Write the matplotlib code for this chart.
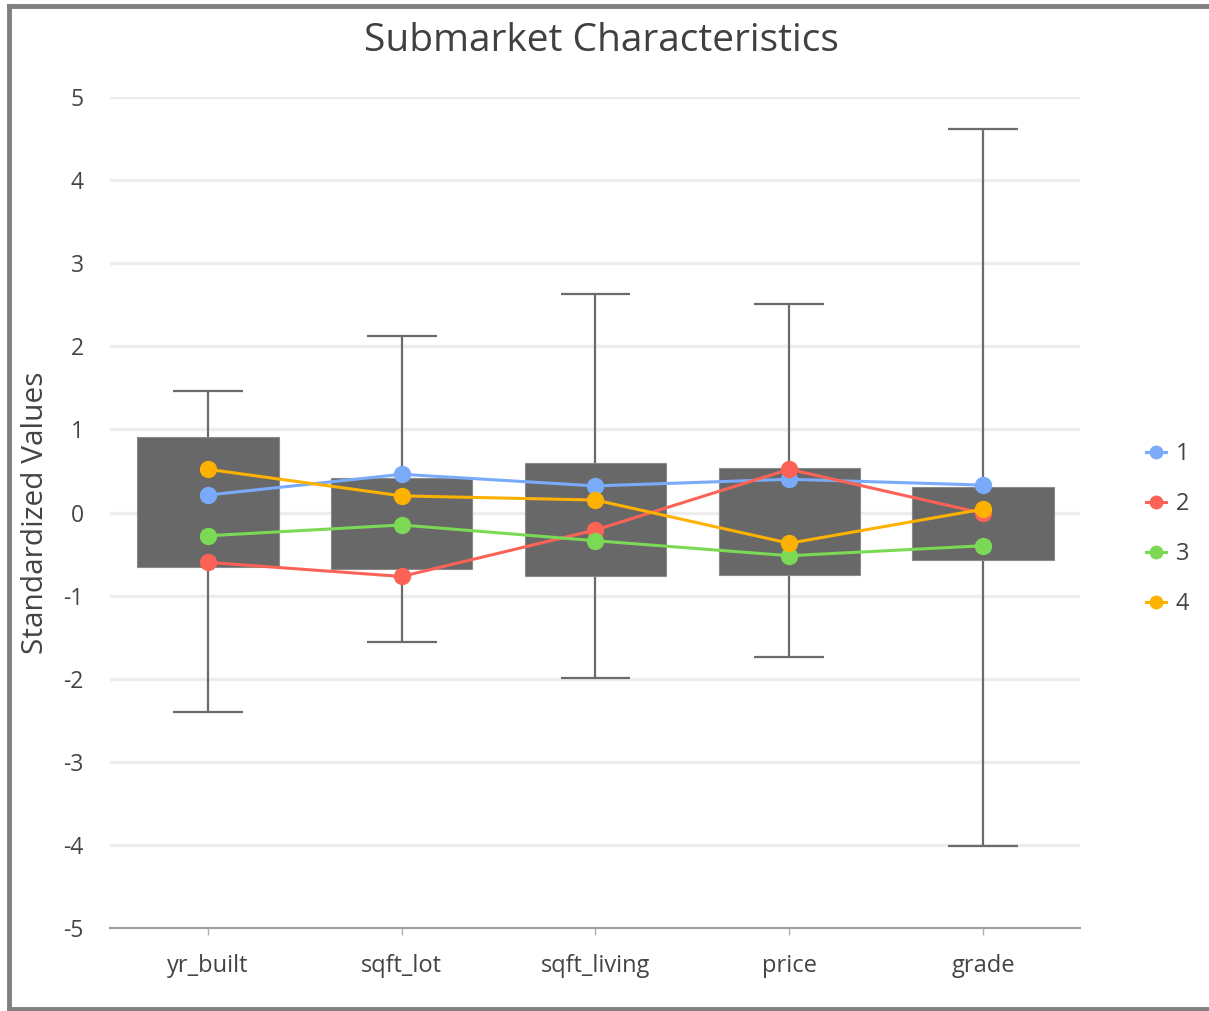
import matplotlib
matplotlib.use("Agg")
import matplotlib.pyplot as plt
from matplotlib.lines import Line2D
import numpy as np

plt.rcParams['font.family'] = ['Open Sans', 'DejaVu Sans']

categories = ["yr_built", "sqft_lot", "sqft_living", "price", "grade"]
q1 = [-0.66, -0.68, -0.76, -0.75, -0.57]
q3 = [0.91, 0.41, 0.60, 0.54, 0.31]
whisker_low = [-2.40, -1.56, -1.99, -1.74, -4.01]
whisker_high = [1.46, 2.12, 2.63, 2.51, 4.61]

series_names = ["1", "2", "3", "4"]
s1 = [0.21, 0.46, 0.32, 0.40, 0.33]
s2 = [-0.60, -0.77, -0.21, 0.52, -0.01]
s3 = [-0.28, -0.15, -0.34, -0.52, -0.40]
s4 = [0.52, 0.20, 0.15, -0.37, 0.04]
series = [s1, s2, s3, s4]
colors = ["#7aabfb", "#fd6257", "#7cd955", "#fdb100"]

W, H = 1209, 1011
fig = plt.figure(figsize=(W / 100, H / 100), dpi=100)
ax = fig.add_axes([110 / W, 1 - 928 / H, (1080 - 110) / W, (928 - 97) / H])

x = np.arange(len(categories))

# grid
for yv in range(-4, 6):
    ax.axhline(yv, color="#ededed", lw=2.4, zorder=0)

# whiskers and caps
ax.vlines(x, whisker_low, whisker_high, color="#6b6b6b", lw=1.6, zorder=1)
ax.hlines(whisker_high, x - 0.18, x + 0.18, color="#6b6b6b", lw=1.6, zorder=1)
ax.hlines(whisker_low, x - 0.18, x + 0.18, color="#6b6b6b", lw=1.6, zorder=1)

# boxes
ax.bar(x, np.array(q3) - np.array(q1), bottom=q1, width=0.73,
       color="#686868", edgecolor="#8a8a8a", linewidth=0.8, zorder=2)

# series lines
for name, vals, c in zip(series_names, series, colors):
    ax.plot(x, vals, color=c, lw=2.2, marker="o", markersize=12.5,
            markeredgewidth=0, label=name, zorder=3)

ax.set_xlim(-0.505, 4.5)
ax.set_ylim(-5, 5)
ax.set_yticks(range(-5, 6))
ax.set_yticklabels([str(v) for v in range(-5, 6)])
ax.set_xticks(x)
ax.set_xticklabels(categories)

for s in ["top", "right", "left"]:
    ax.spines[s].set_visible(False)
ax.spines["bottom"].set_color("#a0a0a0")
ax.spines["bottom"].set_linewidth(1.6)
ax.tick_params(axis="y", length=0, pad=19, labelsize=16.5, labelcolor="#444444")
ax.tick_params(axis="x", length=5, width=1, color="#b0b0b0", pad=14,
               labelsize=17, labelcolor="#444444")

ax.set_ylabel("Standardized Values", fontsize=21.5, color="#444444")
ax.yaxis.set_label_coords((50 - 110) / (1080 - 110), 0.5)
fig.text(601 / W, 1 - 41 / H, "Submarket Characteristics", ha="center",
         va="center", fontsize=28, color="#404040")

leg = ax.legend(loc="center left", bbox_to_anchor=(1146 / W, 1 - 529 / H),
                bbox_transform=fig.transFigure, frameon=False, fontsize=17,
                handlelength=0.85, handletextpad=0.4, labelspacing=1.1,
                borderpad=0, borderaxespad=0, markerscale=0.8)
for t in leg.get_texts():
    t.set_color("#444444")

# outer frame (left, top, bottom edges)
frame_kw = dict(transform=fig.transFigure, color="#808080", linewidth=3.5,
                solid_capstyle="projecting")
fig.lines.append(Line2D([9 / W, 9 / W], [1 - 5.5 / H, 1 - 1008.5 / H], **frame_kw))
fig.lines.append(Line2D([9 / W, 1.01], [1 - 5.5 / H, 1 - 5.5 / H], **frame_kw))
fig.lines.append(Line2D([9 / W, 1.01], [1 - 1008.5 / H, 1 - 1008.5 / H], **frame_kw))

fig.savefig("out.png", dpi=100, facecolor="white")
